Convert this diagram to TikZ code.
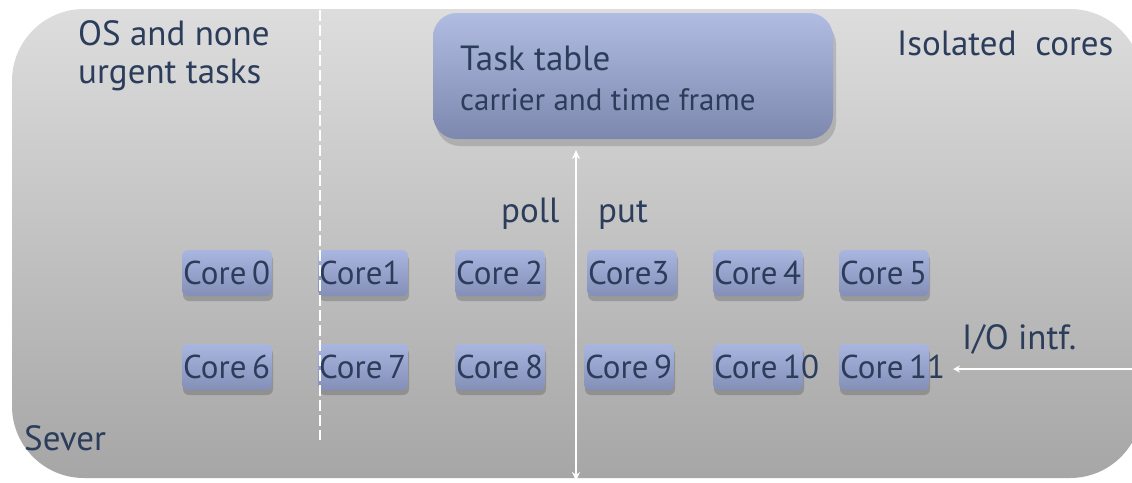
\documentclass[tikz,border=0pt]{standalone}
\usepackage{fontspec}
\setmainfont{PT Sans}
\usetikzlibrary{arrows.meta}
\definecolor{ink}{HTML}{2B3D5A}
\definecolor{bgtop}{HTML}{DDDDDD}
\definecolor{bgbot}{HTML}{A6A6A6}
\definecolor{boxtop}{HTML}{A9B6DF}
\definecolor{boxbot}{HTML}{848FB8}
\tikzset{
  label text/.style={text=ink, font=\fontsize{35}{38}\selectfont, inner sep=0pt},
  corebox/.style={rounded corners=6pt, top color=boxtop, bottom color=boxbot,
    minimum width=90pt, minimum height=46pt, inner sep=0pt},
  coretext/.style={text=ink, font=\fontsize{33}{36}\selectfont, inner sep=0pt},
  coreshadow/.style={fill=black, opacity=0.18, rounded corners=6pt},
  wire/.style={white, line width=2pt},
}
\begin{document}
\begin{tikzpicture}[x=1pt,y=-1pt]
\useasboundingbox (0,0) rectangle (1132,482);
\fill[white] (0,0) rectangle (1132,482);
\begin{scope}
\clip (0,0) rectangle (1132,482);
% server body
\shade[top color=bgtop, bottom color=bgbot, rounded corners=72pt]
  (12,9) rectangle (1142,478);
\end{scope}

% task table with its shadow
\fill[black, opacity=0.15, rounded corners=24pt] (436,20) rectangle (836,146);
\node[rounded corners=24pt, top color=boxtop!92!white, bottom color=boxbot!95!black,
  minimum width=400pt, minimum height=126pt, inner sep=0pt] (table) at (633,76) {};
\node[label text, anchor=base west] (tt) at (460,70) {Task table};
\node[label text, anchor=base west, font=\fontsize{31}{34}\selectfont] (tf) at (460,110) {carrier and time frame};

% region labels
\node[label text, anchor=base west] (os) at (78,45) {OS and none};
\node[label text, anchor=base west] (os2) at (78,83) {urgent tasks};
\node[label text, anchor=base west] (iso) at (897,55) {Isolated\ \ cores};
\node[label text, anchor=base west] (sev) at (24,450) {Sever};
\node[label text, anchor=base west] (io) at (962,349) {I/O intf.};
\node[label text, anchor=base west] (poll) at (501,222) {poll};
\node[label text, anchor=base west] (put) at (598,222) {put};

% cores
\foreach \n/\x/\y in {0/227/273, 1/363/273, 2/500/273, 3/632/273, 4/758/273, 5/884/273,
                      6/227/367, 7/363/367, 8/500/367, 9/629/367, 10/758/367, 11/884/367}{
  \fill[coreshadow] (\x-44,\y-19) rectangle (\x+46,\y+28);
  \node[corebox] (c\n) at (\x,\y) {};
}
\foreach \n/\t in {0/Core\,0, 1/Core1, 2/Core\,2, 3/Core3, 4/Core\,4, 5/Core\,5,
                   6/Core\,6, 7/Core\,7, 8/Core\,8, 9/Core\,9, 10/Core\,10, 11/Core\,11}{
  \node[coretext, anchor=base west] at ([xshift=-44pt,yshift=-11pt]c\n.center) {\t};
}

% separator between OS cores and isolated cores
\coordinate (sepT) at (320,10);
\coordinate (sepB) at (320,440);
\draw[white, line width=1.6pt, dash pattern=on 11pt off 4pt] (sepT) -- (sepB);

% poll / put channel
\coordinate (chT) at (576,150);
\coordinate (chB) at (576,481);
\draw[wire, {Stealth[length=9pt,width=8pt]}-{Stealth[length=9pt,width=8pt]}] (chT) -- (chB);

% I/O interface link
\coordinate (ioR) at (1132,369);
\coordinate (ioL) at (953,369);
\draw[wire, -{Stealth[length=7pt,width=7pt]}] (ioR) -- (ioL);
\end{tikzpicture}
\end{document}
